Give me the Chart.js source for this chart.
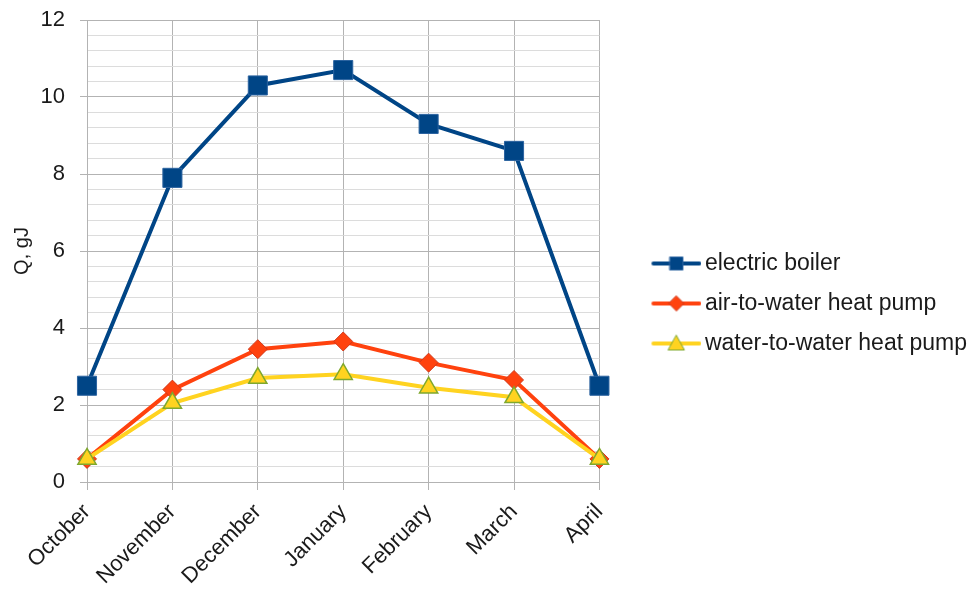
<!DOCTYPE html>
<html>
<head>
<meta charset="utf-8">
<script src="https://cdn.jsdelivr.net/npm/chart.js@4/dist/chart.umd.min.js"></script>
<style>
  html, body { margin: 0; padding: 0; background: #ffffff; }
  canvas { display: block; }
</style>
</head>
<body>
<canvas id="chart" width="977" height="592"></canvas>
<script>
// Monthly heat demand, Q in gJ, for three heating options
const months = ['October', 'November', 'December', 'January', 'February', 'March', 'April'];
const electricBoiler = [2.5, 7.9, 10.3, 10.7, 9.3, 8.6, 2.5];
const airToWater = [0.6, 2.4, 3.45, 3.65, 3.1, 2.65, 0.6];
const waterToWater = [0.6, 2.05, 2.7, 2.8, 2.45, 2.2, 0.6];
const seriesNames = ['electric boiler', 'air-to-water heat pump', 'water-to-water heat pump'];

const FONT = '"Liberation Sans", Arial, sans-serif';
const TEXT = '#1a1a1a';
const MAJOR = '#b3b3b3';
const MINOR = '#dcdcdc';

const BLUE = '#004586', BLUE_EDGE = '#2c64a0';
const ORANGE = '#ff420e', ORANGE_EDGE = '#d0381a';
const YELLOW = '#ffd320', YELLOW_EDGE = '#7fa82e';

// Legend swatch: a short line with the series marker in the middle
function swatch(color, marker, fill, edge) {
  const c = document.createElement('canvas');
  c.width = 60; c.height = 20;
  const g = c.getContext('2d');
  const cx = 35, cy = 10;
  g.strokeStyle = color; g.lineWidth = 4; g.lineCap = 'round';
  g.beginPath(); g.moveTo(12, cy); g.lineTo(58, cy); g.stroke();
  g.fillStyle = fill; g.strokeStyle = edge; g.lineWidth = 1;
  g.beginPath();
  if (marker === 'square') {
    g.rect(cx - 6.5, cy - 6.5, 13, 13);
  } else if (marker === 'diamond') {
    g.moveTo(cx, cy - 7.5); g.lineTo(cx + 7.5, cy); g.lineTo(cx, cy + 7.5); g.lineTo(cx - 7.5, cy); g.closePath();
  } else {
    g.moveTo(cx, cy - 8); g.lineTo(cx + 8, cy + 6.5); g.lineTo(cx - 8, cy + 6.5); g.closePath();
  }
  g.fill(); g.stroke();
  return c;
}
const swatches = [
  swatch(BLUE, 'square', BLUE, BLUE_EDGE),
  swatch(ORANGE, 'diamond', ORANGE, ORANGE_EDGE),
  swatch(YELLOW, 'triangle', YELLOW, YELLOW_EDGE)
];

const isMajor = v => {
  const r = Math.round(v * 10) / 10;
  return Number.isInteger(r) && r % 2 === 0;
};

new Chart(document.getElementById('chart'), {
  type: 'line',
  data: {
    labels: months,
    datasets: [
      {
        label: seriesNames[0], data: electricBoiler, order: 2,
        borderColor: BLUE, backgroundColor: BLUE, borderWidth: 4,
        pointStyle: 'rect', pointRadius: 13.5, pointHoverRadius: 13.5,
        pointBackgroundColor: BLUE, pointBorderColor: BLUE_EDGE, pointBorderWidth: 1
      },
      {
        label: seriesNames[1], data: airToWater, order: 1,
        borderColor: ORANGE, backgroundColor: ORANGE, borderWidth: 4,
        pointStyle: 'rectRot', pointRadius: 9.5, pointHoverRadius: 9.5,
        pointBackgroundColor: ORANGE, pointBorderColor: ORANGE_EDGE, pointBorderWidth: 1
      },
      {
        label: seriesNames[2], data: waterToWater, order: 0,
        borderColor: YELLOW, backgroundColor: YELLOW, borderWidth: 4,
        pointStyle: 'triangle', pointRadius: 10.5, pointHoverRadius: 10.5,
        pointBackgroundColor: YELLOW, pointBorderColor: YELLOW_EDGE, pointBorderWidth: 1.5
      }
    ]
  },
  options: {
    responsive: false,
    animation: false,
    events: [],
    layout: { padding: { top: 20, right: 0, bottom: 5, left: 0 } },
    elements: { line: { tension: 0 } },
    plugins: {
      tooltip: { enabled: false },
      legend: {
        position: 'right',
        align: 'center',
        maxWidth: 420,
        labels: {
          usePointStyle: true,
          pointStyleWidth: 44,
          padding: 17,
          color: TEXT,
          font: { family: FONT, size: 23 },
          generateLabels: chart => chart.data.datasets.map((ds, i) => ({
            text: ds.label,
            pointStyle: swatches[i],
            fillStyle: ds.borderColor,
            strokeStyle: ds.borderColor,
            lineWidth: 0,
            fontColor: TEXT,
            hidden: false,
            datasetIndex: i
          }))
        }
      }
    },
    scales: {
      x: {
        offset: false,
        grid: { color: MAJOR, lineWidth: 1, tickLength: 8, tickColor: MAJOR },
        border: { color: MAJOR },
        ticks: {
          color: TEXT, font: { family: FONT, size: 22 },
          minRotation: 45, maxRotation: 45, padding: 9, autoSkip: false
        },
        afterFit: s => { s.height = 105; s.paddingLeft = 0; s.paddingRight = 0; }
      },
      y: {
        min: 0, max: 12,
        grid: {
          color: c => isMajor(c.tick.value) ? MAJOR : MINOR,
          tickColor: c => isMajor(c.tick.value) ? MAJOR : 'rgba(0,0,0,0)',
          lineWidth: 1, tickLength: 7
        },
        border: { color: MAJOR },
        ticks: {
          stepSize: 0.4, maxTicksLimit: 100, autoSkip: false,
          color: TEXT, font: { family: FONT, size: 22 }, padding: 15,
          callback: v => isMajor(v) ? String(Math.round(v)) : ''
        },
        title: {
          display: true, text: 'Q, gJ', color: TEXT,
          font: { family: FONT, size: 20 }, padding: { top: 10, bottom: 0 }
        },
        afterFit: s => { s.width = 87; s.paddingTop = 0; s.paddingBottom = 0; }
      },
      gap: {
        type: 'linear', position: 'right', display: true,
        grid: { display: false }, border: { display: false },
        ticks: { display: false },
        afterFit: s => { s.width = 33; }
      }
    }
  }
});
</script>
</body>
</html>
